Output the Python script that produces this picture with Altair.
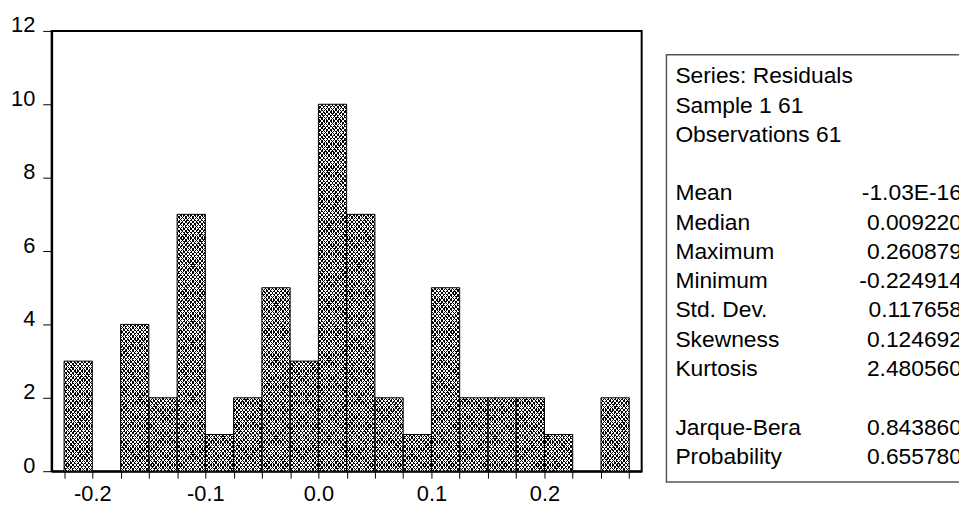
import altair as alt
import pandas as pd

# ---- data ----
bin_lo = [-0.225, -0.200, -0.175, -0.150, -0.125, -0.100, -0.075, -0.050, -0.025, 0.000,
          0.025, 0.050, 0.075, 0.100, 0.125, 0.150, 0.175, 0.200, 0.225, 0.250]
counts = [3, 0, 4, 2, 7, 1, 2, 5, 3, 10, 7, 2, 1, 5, 2, 2, 2, 1, 0, 2]
BIN_W = 0.025

x_tick_values = [-0.225, -0.200, -0.175, -0.150, -0.125, -0.100, -0.075, -0.050, -0.025, 0.000,
                 0.025, 0.050, 0.075, 0.100, 0.125, 0.150, 0.175, 0.200, 0.225, 0.250, 0.275]
y_tick_values = [0, 2, 4, 6, 8, 10, 12]

# statistics box: three blocks separated by a blank line
header_lines = ["Series: Residuals", "Sample 1 61", "Observations 61"]
moment_names = ["Mean", "Median", "Maximum", "Minimum", "Std. Dev.", "Skewness", "Kurtosis"]
moment_values = ["-1.03E-16", "0.009220", "0.260879", "-0.224914", "0.117658", "0.124692", "2.480560"]
test_names = ["Jarque-Bera", "Probability"]
test_values = ["0.843860", "0.655780"]

FONT = "Liberation Sans"
LINE_H = 29.5
TEXT_TOP = 53          # baseline of the first line, in plot-area pixels
NAME_X = 629
VALUE_X = 918

# ---- tables built from the lists ----
bars = pd.DataFrame({"lo": bin_lo,
                     "hi": [round(b + BIN_W, 3) for b in bin_lo],
                     "count": counts})
bars = bars[bars["count"] > 0]

cell_rows = []
for lo, c in zip(bin_lo, counts):
    for k in range(c):
        cell_rows.append({"lo": lo, "hi": round(lo + BIN_W, 3), "k0": k, "k1": k + 1})
cells = pd.DataFrame(cell_rows)

one = pd.DataFrame({"d": [0]})

xscale = alt.Scale(domain=[-0.236, 0.286], nice=False, zero=False)
yscale = alt.Scale(domain=[0, 12], nice=False, zero=False)


def hatch(x1, y1, x2, y2, light, n=16, frac=0.3):
    stops = []
    for i in range(n):
        a = i / n
        b = (i + frac) / n
        c = (i + 1) / n
        stops += [alt.GradientStop(offset=a, color="#000000"),
                  alt.GradientStop(offset=b, color="#000000"),
                  alt.GradientStop(offset=b, color=light),
                  alt.GradientStop(offset=c, color=light)]
    return alt.LinearGradient(gradient="linear", stops=stops, x1=x1, y1=y1, x2=x2, y2=y2)


xaxis = alt.Axis(
    values=x_tick_values,
    labelExpr="abs(datum.value*10 - round(datum.value*10)) < 0.001 ? "
              "(datum.value < -0.001 ? '-' : '') + format(abs(datum.value), '.1f') : ''",
    tickSize=7, labelPadding=6, grid=False,
    domainColor="black", domainWidth=2, tickColor="black", tickWidth=1,
    labelFontSize=22, labelFont=FONT, labelColor="black",
    labelOverlap=False, labelFlush=False, title=None,
)
yaxis = alt.Axis(
    values=y_tick_values, format="d",
    tickSize=9, labelPadding=8, grid=False,
    domainColor="black", domainWidth=2, tickColor="black", tickWidth=1,
    labelFontSize=22, labelFont=FONT, labelColor="black",
    labelBaseline="alphabetic", labelOffset=1,
    labelOverlap=False, labelFlush=False, title=None,
)


def cell_layer(fill):
    return alt.Chart(cells).mark_rect(fill=fill, strokeWidth=0).encode(
        x=alt.X("lo:Q", scale=xscale, axis=xaxis),
        x2="hi:Q",
        y=alt.Y("k0:Q", scale=yscale, axis=yaxis),
        y2="k1:Q",
    )


hatch_a = cell_layer(hatch(0, 0, 1, 1, "#ffffff"))
hatch_b = cell_layer(hatch(1, 0, 0, 1, "rgba(255,255,255,0)"))

outline = alt.Chart(bars).mark_rect(
    fill="transparent", stroke="#000000", strokeWidth=1
).encode(
    x=alt.X("lo:Q", scale=xscale, axis=xaxis),
    x2="hi:Q",
    y=alt.Y("count:Q", scale=yscale, axis=yaxis),
    y2=alt.Y2(datum=0),
)

box = alt.Chart(one).mark_rect(
    fill="white", stroke="#555555", strokeWidth=1.5
).encode(
    x=alt.value(620), x2=alt.value(1000), y=alt.value(24), y2=alt.value(455)
)


def text_block(lines, first_line_index, x, align):
    return alt.Chart(one).mark_text(
        align=align, baseline="alphabetic", font=FONT, fontSize=23,
        lineHeight=LINE_H, color="black"
    ).encode(
        x=alt.value(x),
        y=alt.value(TEXT_TOP + first_line_index * LINE_H),
        text=alt.value(lines),
    )


texts = [
    text_block(header_lines, 0, NAME_X, "left"),
    text_block(moment_names, 4, NAME_X, "left"),
    text_block(moment_values, 4, VALUE_X, "right"),
    text_block(test_names, 12, NAME_X, "left"),
    text_block(test_values, 12, VALUE_X, "right"),
]

chart = alt.layer(hatch_a, hatch_b, outline, box, *texts).properties(
    width=595,
    height=444,
    autosize=alt.AutoSizeParams(type="none"),
    padding={"left": 44, "top": 21, "right": 320, "bottom": 32},
    background="white",
).configure_view(stroke="black", strokeWidth=2)

chart.save("out.html", embed_options={"renderer": "svg", "actions": False})
